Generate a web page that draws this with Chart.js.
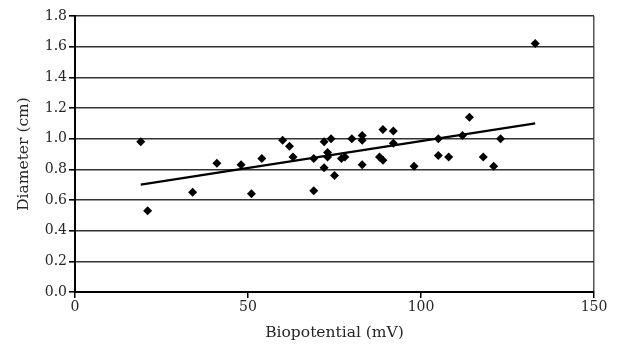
<!DOCTYPE html>
<html>
<head>
<meta charset="utf-8">
<script src="https://cdn.jsdelivr.net/npm/chart.js@4/dist/chart.umd.min.js"></script>
<style>
    html, body { margin: 0; padding: 0; background: #fff; }
    #wrap { width: 621px; height: 348px; }
</style>
</head>
<body>
<div id="wrap"><canvas id="chartCanvasId"></canvas></div>
<script>
"use strict";

// measured points (biopotential mV, diameter cm)
const biopotential = [19, 21, 34, 41, 48, 51, 54, 60, 62, 63, 69, 69, 72, 72, 73, 73, 74, 75, 77, 78,
    80, 83, 83, 83, 88, 89, 89, 92, 92, 98, 105, 105, 108, 112, 114, 118, 121, 123, 133];
const diameter = [0.98, 0.53, 0.65, 0.84, 0.83, 0.64, 0.87, 0.99, 0.95, 0.88, 0.66, 0.87, 0.98, 0.81, 0.91, 0.88, 1.00, 0.76, 0.87, 0.88,
    1.00, 1.02, 0.99, 0.83, 0.88, 1.06, 0.86, 1.05, 0.97, 0.82, 1.00, 0.89, 0.88, 1.02, 1.14, 0.88, 0.82, 1.00, 1.62];

// trend line end points
const trendX = [19, 133];
const trendY = [0.70, 1.10];

const xTicks = [0, 50, 100, 150];
const yTicks = [0.0, 0.2, 0.4, 0.6, 0.8, 1.0, 1.2, 1.4, 1.6, 1.8];

const serif = "'DejaVu Serif', 'Liberation Serif', serif";
const textColor = "#262626";

const points = biopotential.map((x, i) => ({ x: x, y: diameter[i] }));
const trend = trendX.map((x, i) => ({ x: x, y: trendY[i] }));

const chartContext = document.getElementById("chartCanvasId").getContext("2d");

const myChart = new Chart(chartContext, {
    type: "scatter",
    data: {
        datasets: [{
            data: trend,
            showLine: true,
            borderColor: "#000",
            borderWidth: 2.2,
            pointRadius: 0,
        }, {
            data: points,
            pointStyle: "rectRot",
            pointRadius: 4.5,
            backgroundColor: "#000",
            borderColor: "#000",
            borderWidth: 0,
        }],
    },
    options: {
        responsive: true,
        maintainAspectRatio: false,
        animation: false,
        layout: {
            padding: { top: 16, right: 27, left: 0, bottom: 0 },
        },
        plugins: {
            legend: { display: false },
            tooltip: { enabled: false },
        },
        scales: {
            x: {
                type: "linear",
                min: 0,
                max: 150,
                afterBuildTicks: scale => {
                    scale.ticks = xTicks.map(v => ({ value: v }));
                },
                afterFit: scale => { scale.height = 56; },
                ticks: {
                    color: textColor,
                    font: { family: serif, size: 14 },
                    padding: 1,
                    maxRotation: 0,
                },
                grid: {
                    drawOnChartArea: true,
                    color: ctx => (ctx.tick && ctx.tick.value === 150) ? "#555" : "rgba(0,0,0,0)",
                    tickColor: "#000",
                    tickLength: 6,
                    lineWidth: 1.5,
                },
                border: { display: true, color: "#000", width: 2 },
                title: {
                    display: true,
                    text: "Biopotential (mV)",
                    color: textColor,
                    font: { family: serif, size: 15.5 },
                    padding: { top: 0, bottom: 6 },
                },
            },
            y: {
                type: "linear",
                min: 0,
                max: 1.8,
                afterBuildTicks: scale => {
                    scale.ticks = yTicks.map(v => ({ value: v }));
                },
                afterFit: scale => { scale.width = 75; },
                ticks: {
                    color: textColor,
                    font: { family: serif, size: 14 },
                    padding: 2,
                    callback: v => Number(v).toFixed(1),
                },
                grid: {
                    color: "#333",
                    tickColor: "#000",
                    tickLength: 6,
                    lineWidth: 1.6,
                },
                border: { display: true, color: "#000", width: 2 },
                title: {
                    display: true,
                    text: "Diameter (cm)",
                    color: textColor,
                    font: { family: serif, size: 15.5 },
                    padding: { top: 15, bottom: 0 },
                },
            },
        },
    },
});
</script>
</body>
</html>
